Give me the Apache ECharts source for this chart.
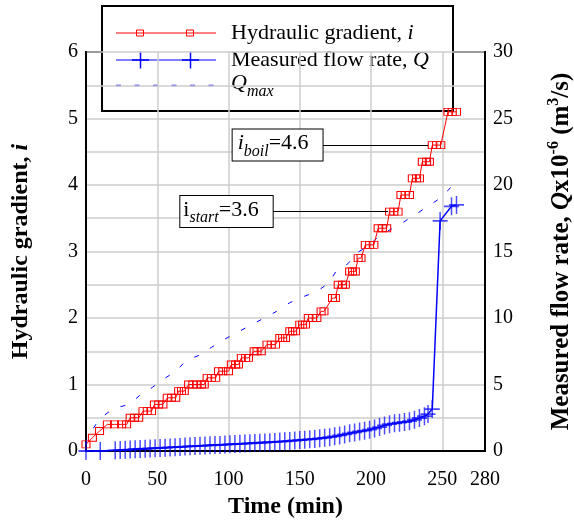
<!DOCTYPE html>
<html><head><meta charset="utf-8">
<script src="https://cdn.jsdelivr.net/npm/echarts@6/dist/echarts.min.js"></script>
<style>html,body{margin:0;padding:0;background:#fff}#c{width:574px;height:522px}</style>
</head><body><div id="c"></div>
<script>
// Hydraulic gradient i (left axis)
const iTime = [0,4.5,9.5,15,20,25,28.5,31,34,37,40,43,46,48,51,54,57,60,63,65,67,69,72,75,78,81,83,85,88,91,93,96,100,102,105,107,109,112,114,118,120,123,127,130,133,136,138,140,143,145,147,150,152,154,156,159,162,165,167,173,175,177,180,182,185,187,189,191,193,196,199,202,205,208,211,213,216,219,221,224,227,229,232,234,236,239,241,243,246,249,254,257,260];
const iValue = [0.1,0.2,0.3,0.4,0.4,0.4,0.4,0.5,0.5,0.5,0.6,0.6,0.6,0.7,0.7,0.7,0.8,0.8,0.8,0.9,0.9,0.9,1.0,1.0,1.0,1.0,1.0,1.1,1.1,1.1,1.2,1.2,1.2,1.3,1.3,1.3,1.4,1.4,1.4,1.5,1.5,1.5,1.6,1.6,1.6,1.7,1.7,1.7,1.8,1.8,1.8,1.9,1.9,1.9,2.0,2.0,2.0,2.1,2.1,2.3,2.3,2.5,2.5,2.5,2.7,2.7,2.7,2.9,2.9,3.1,3.1,3.1,3.35,3.35,3.35,3.6,3.6,3.6,3.85,3.85,3.85,4.1,4.1,4.1,4.35,4.35,4.35,4.6,4.6,4.6,5.1,5.1,5.1];
// Measured flow rate Q (right axis, x10^-6 m3/s)
const qTime = [0,10,20.5,24,27.5,31,34.5,38,41.5,45,48.5,52,55.5,59,62.5,66,69.5,73,76.5,80,83.5,87,90.5,94,97.5,101,104.5,108,111.5,115,118.5,122,125.5,129,132.5,136,139.5,143,146.5,150,153.5,157,160.5,164,167.5,171,174.5,178,181.5,185,188.5,192,195.5,199,202.5,206,209.5,213,216.5,220,223.5,227,230.5,234,237.5,240,243,248.5,256.5,260];
const qValue = [0,0,0.05,0.07,0.09,0.11,0.13,0.15,0.17,0.19,0.21,0.23,0.25,0.27,0.29,0.31,0.33,0.35,0.37,0.39,0.41,0.43,0.45,0.46,0.48,0.5,0.52,0.54,0.56,0.58,0.6,0.62,0.64,0.66,0.68,0.71,0.73,0.76,0.79,0.82,0.85,0.88,0.91,0.95,0.99,1.04,1.1,1.17,1.25,1.33,1.4,1.47,1.53,1.6,1.7,1.8,1.92,2.02,2.08,2.13,2.18,2.24,2.35,2.48,2.62,2.78,3.15,17.3,18.4,18.5];
// Qmax (right axis)
const qmaxTime = [0,0.5,9.4,19.2,30.4,37.9,46.8,54.3,63.2,70.2,79.5,88.2,96.4,105,114.6,123.3,133.8,143,152.5,162,170,175.4,184,190,198,206,214.5,222.7,231.4,240,248.4,257.8];
const qmaxValue = [0.5,0.95,2.4,3.2,3.5,4.2,4.8,5.4,6.0,6.8,7.2,7.8,8.35,8.85,9.4,9.9,10.5,11.15,11.6,12.0,12.6,13.5,14.1,14.9,15.4,16.2,16.7,17.2,17.8,18.4,19.0,20.0];
// axis ticks
const xTicks = {min:0, max:280, interval:50};
const yLeftTicks = {min:0, max:6, interval:0.5};
const yRightTicks = {min:0, max:30, interval:5};
// annotations
const iBoil = 4.6, iStart = 3.6;

const SERIF = '"Liberation Serif", "Times New Roman", serif';
const PLUS = 'path://M9,0H11V9H20V11H11V20H9V11H0V9H9Z';
const zip = (a,b) => a.map((v,k) => [v, b[k]]);
const grid = {color:'#cccccc', width:1.5};

const chart = echarts.init(document.getElementById('c'));
const annLabelRich = {
  it:{fontFamily:SERIF,fontSize:22,fontStyle:'italic',color:'#000',verticalAlign:'bottom',padding:[0,0,5,0]},
  up:{fontFamily:SERIF,fontSize:22,color:'#000',verticalAlign:'bottom',padding:[0,0,5,0]},
  sub:{fontFamily:SERIF,fontSize:16,fontStyle:'italic',color:'#000',verticalAlign:'bottom',padding:[0,0,0,0]}
};
const option = {
  animation:false,
  grid:{left:86,right:89,top:52,bottom:71,show:true,borderColor:'#000',borderWidth:2,
        containLabel:false,outerBoundsMode:'none'},
  xAxis:{type:'value',min:xTicks.min,max:xTicks.max,interval:xTicks.interval,
    axisLine:{show:true,lineStyle:{color:'#000',width:2}},axisTick:{show:false},
    splitLine:{show:true,lineStyle:grid},
    axisLabel:{fontFamily:SERIF,fontSize:20,color:'#000',margin:19},
    name:'Time (min)',nameLocation:'middle',nameGap:44,
    nameTextStyle:{fontFamily:SERIF,fontSize:24,fontWeight:'bold',color:'#000'}},
  yAxis:[
    {type:'value',position:'left',min:yLeftTicks.min,max:yLeftTicks.max,interval:yLeftTicks.interval,
     axisLine:{show:true,lineStyle:{color:'#000',width:2}},axisTick:{show:false},
     splitLine:{show:true,lineStyle:grid},
     axisLabel:{fontFamily:SERIF,fontSize:20,color:'#000',margin:8,
       formatter:v => Number.isInteger(v) ? String(v) : ''},
     name:'{b|Hydraulic gradient, }{bi|i}',nameLocation:'middle',nameGap:53,nameRotate:90,
     nameTextStyle:{rich:{
       b:{fontFamily:SERIF,fontSize:24,fontWeight:'bold',color:'#000'},
       bi:{fontFamily:SERIF,fontSize:24,fontWeight:'bold',fontStyle:'italic',color:'#000'}}}},
    {type:'value',position:'right',min:yRightTicks.min,max:yRightTicks.max,interval:yRightTicks.interval,
     axisLine:{show:true,lineStyle:{color:'#000',width:2}},axisTick:{show:false},
     splitLine:{show:false},
     axisLabel:{fontFamily:SERIF,fontSize:20,color:'#000',margin:8},
     name:'{b|Measured flow rate, }{bi|Q}{b|x10}{sup|-6}{b| (m}{sup|3}{b|/s)}',
     nameLocation:'middle',nameGap:61,nameRotate:90,
     nameTextStyle:{rich:{
       b:{fontFamily:SERIF,fontSize:25,fontWeight:'bold',color:'#000',verticalAlign:'bottom',lineHeight:28},
       bi:{fontFamily:SERIF,fontSize:25,fontWeight:'bold',fontStyle:'italic',color:'#000',verticalAlign:'bottom',lineHeight:28},
       sup:{fontFamily:SERIF,fontSize:16,fontWeight:'bold',color:'#000',verticalAlign:'top',lineHeight:28}}}}
  ],
  series:[
    {name:'Qmax',type:'line',yAxisIndex:1,data:zip(qmaxTime,qmaxValue),symbol:'none',silent:true,
     lineStyle:{color:'#0000ff',width:1,type:[5,13]},z:2},
    {name:'Hydraulic gradient, i',type:'line',yAxisIndex:0,data:zip(iTime,iValue),
     symbol:'rect',symbolSize:[8,7],silent:true,
     itemStyle:{color:'rgba(255,255,255,0)',borderColor:'#ff0000',borderWidth:1},
     lineStyle:{color:'#ff0000',width:1},z:3,
     markLine:{silent:true,symbol:['none','none'],animation:false,
       lineStyle:{color:'#000',width:1,type:'solid'},
       label:{show:true,position:'start',distance:0,backgroundColor:'#fff',borderColor:'#000',borderWidth:1,
         padding:[3,14,1,5],rich:annLabelRich},
       data:[
         [{coord:[166,iBoil],label:{formatter:'{it|i}{sub|boil}{up|=' + iBoil + '}'}},{coord:[240,iBoil]}],
         [{coord:[131,iStart],label:{formatter:'{up|i}{sub|start}{up|=' + iStart + '}',padding:[3,14,1,3]}},{coord:[212,iStart]}]
       ]}},
    {name:'Measured flow rate, Q',type:'line',yAxisIndex:1,data:zip(qTime,qValue),
     symbol:PLUS,symbolSize:[15,18],silent:true,
     itemStyle:{color:'rgba(0,0,255,0.7)'},
     lineStyle:{color:'#0000ff',width:1.5},z:4}
  ],
  graphic:[
    {type:'group',left:101,top:5,z:100,children:[
      {type:'rect',shape:{x:0,y:0,width:351,height:105},style:{fill:'#fff',stroke:'#000',lineWidth:2}},
      {type:'line',shape:{x1:14,y1:27,x2:114,y2:27},style:{stroke:'#ff0000',lineWidth:1}},
      {type:'rect',shape:{x:34.5,y:24,width:7,height:6},style:{fill:'none',stroke:'#ff0000',lineWidth:1}},
      {type:'rect',shape:{x:84.5,y:24,width:7,height:6},style:{fill:'none',stroke:'#ff0000',lineWidth:1}},
      {type:'line',shape:{x1:14,y1:54,x2:114,y2:54},style:{stroke:'#0000ff',lineWidth:1.2}},
      {type:'line',shape:{x1:30,y1:54,x2:47,y2:54},style:{stroke:'#0000ff',lineWidth:1.5}},
      {type:'line',shape:{x1:38.5,y1:45.5,x2:38.5,y2:62.5},style:{stroke:'#0000ff',lineWidth:1.5}},
      {type:'line',shape:{x1:80,y1:54,x2:97,y2:54},style:{stroke:'#0000ff',lineWidth:1.5}},
      {type:'line',shape:{x1:88.5,y1:45.5,x2:88.5,y2:62.5},style:{stroke:'#0000ff',lineWidth:1.5}},
      {type:'line',shape:{x1:14,y1:79.5,x2:114,y2:79.5},style:{stroke:'#0000ff',lineWidth:1.5,lineDash:[5,13.5]}},
      {type:'text',x:129,y:27,style:{text:'{a|Hydraulic gradient, }{b|i}',verticalAlign:'middle',
        rich:{a:{fontFamily:SERIF,fontSize:22,fill:'#000'},b:{fontFamily:SERIF,fontSize:22,fontStyle:'italic',fill:'#000'}}}},
      {type:'text',x:129,y:54,style:{text:'{a|Measured flow rate, }{b|Q}',verticalAlign:'middle',
        rich:{a:{fontFamily:SERIF,fontSize:22,fill:'#000'},b:{fontFamily:SERIF,fontSize:22,fontStyle:'italic',fill:'#000'}}}},
      {type:'text',x:129,y:80,style:{text:'{b|Q}{s|max}',verticalAlign:'middle',
        rich:{b:{fontFamily:SERIF,fontSize:22,fontStyle:'italic',fill:'#000',verticalAlign:'bottom',padding:[0,0,5,0]},
              s:{fontFamily:SERIF,fontSize:16,fontStyle:'italic',fill:'#000',verticalAlign:'bottom'}}}}
    ]}
  ]
};
chart.setOption(option);
</script></body></html>
